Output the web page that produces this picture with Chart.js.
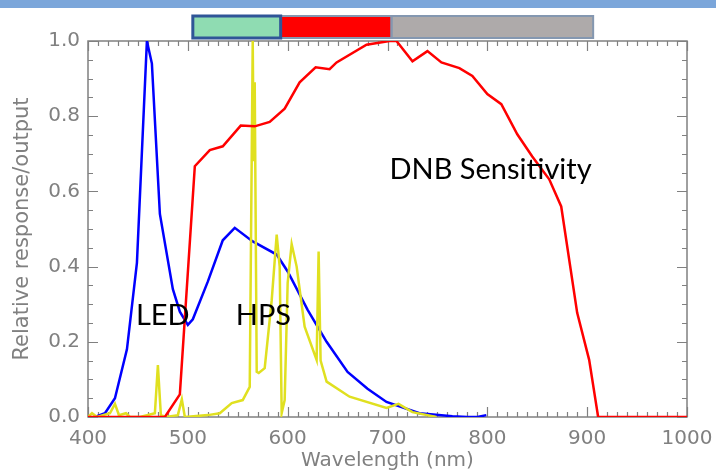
<!DOCTYPE html>
<html>
<head>
<meta charset="utf-8">
<script src="https://cdn.jsdelivr.net/npm/chart.js@4.4.0/dist/chart.umd.min.js"></script>
<style>
  body { margin: 0; background: #fff; }
  #wrap { position: relative; width: 716px; height: 471px; }
  #banner { position: absolute; left: 0; top: 0; width: 716px; height: 8px; background: #7ba6da; }
</style>
</head>
<body>
<div id="wrap">
  <canvas id="chartCanvas" width="716" height="471"></canvas>
  <div id="banner"></div>
</div>
<script>
// LED spectrum (blue)
const ledWl  = [407, 417, 427, 439, 449, 459, 464, 472, 485, 492, 500, 505, 520, 535, 547, 565, 589, 600, 620, 639, 660, 680, 699, 732, 765, 780, 790, 799];
const ledVal = [0, 0.01, 0.05, 0.18, 0.41, 1.0, 0.94, 0.54, 0.34, 0.28, 0.245, 0.26, 0.36, 0.47, 0.503, 0.467, 0.432, 0.387, 0.285, 0.2, 0.12, 0.075, 0.04, 0.01, 0.002, 0, 0, 0.005];

// DNB sensitivity (red)
const dnbWl  = [400, 477, 492, 507, 522, 535, 553, 567, 582, 597, 612, 628, 642, 649, 679, 702, 709, 725, 740, 754, 772, 785, 800, 814, 830, 845, 862, 874, 890, 902, 911, 920, 1000];
const dnbVal = [0, 0, 0.06, 0.667, 0.71, 0.72, 0.775, 0.773, 0.785, 0.82, 0.89, 0.93, 0.925, 0.943, 0.99, 1.0, 1.0, 0.946, 0.973, 0.943, 0.928, 0.907, 0.859, 0.832, 0.752, 0.693, 0.632, 0.56, 0.277, 0.152, 0, 0, 0];

// HPS spectrum (yellow)
const hpsWl  = [400, 404, 409, 415, 422, 427, 431, 438, 442, 452, 467, 470, 473, 478, 490, 494, 497, 520, 532, 544, 555, 562, 565, 566, 567, 569, 571, 577, 584, 589, 592, 594, 597, 600, 604, 609, 617, 629, 631, 633, 639, 662, 699, 711, 725, 749];
const hpsVal = [0, 0.01, 0, 0.005, 0.01, 0.035, 0.005, 0.01, 0, 0, 0.01, 0.138, 0.005, 0, 0.005, 0.047, 0, 0.005, 0.01, 0.037, 0.045, 0.08, 1.0, 0.68, 0.89, 0.12, 0.117, 0.13, 0.31, 0.485, 0.4, 0.01, 0.045, 0.357, 0.46, 0.4, 0.24, 0.152, 0.44, 0.15, 0.094, 0.054, 0.024, 0.035, 0.013, 0];

// spectral bands shown above the plot (nm)
const bandStart = [505, 593, 704];
const bandEnd   = [593, 704, 906];
const bandFill  = ['#8fdcb2', '#ff0000', '#aeaaaa'];
const bandLine  = ['#2f5597', '#8497b0', '#8497b0'];

// text labels on the plot
const noteText = ['LED', 'HPS', 'DNB Sensitivity'];
const noteWl   = [448, 548, 702];
const noteVal  = [0.245, 0.245, 0.632];

const toPts = (xs, ys) => xs.map((x, i) => ({ x: x, y: ys[i] }));
const axisGrey = '#808080';
const tickFont = { family: 'DejaVu Sans', size: 20 };

// Rahmen mit Ticks nach innen, auf allen vier Seiten
const framePlugin = {
  id: 'frame',
  beforeDatasetsDraw(chart) {
    const { ctx, chartArea: a, scales: { x, y } } = chart;
    ctx.save();
    ctx.strokeStyle = axisGrey;
    ctx.lineWidth = 1.5;
    ctx.strokeRect(a.left, a.top, a.right - a.left, a.bottom - a.top);
    ctx.lineWidth = 1.2;
    ctx.beginPath();
    for (let w = 400; w <= 1000; w += 10) {
      const px = Math.round(x.getPixelForValue(w)) + 0.5;
      const len = w % 100 === 0 ? 10 : 5;
      ctx.moveTo(px, a.bottom); ctx.lineTo(px, a.bottom - len);
      ctx.moveTo(px, a.top); ctx.lineTo(px, a.top + len);
    }
    for (let i = 0; i <= 20; i++) {
      const py = Math.round(y.getPixelForValue(i * 0.05)) + 0.5;
      const len = i % 4 === 0 ? 10 : 5;
      ctx.moveTo(a.left, py); ctx.lineTo(a.left + len, py);
      ctx.moveTo(a.right, py); ctx.lineTo(a.right - len, py);
    }
    ctx.stroke();
    ctx.restore();
  },
  afterDraw(chart) {
    const { ctx, scales: { x, y } } = chart;
    ctx.save();
    // Bänder oben
    for (let i = 0; i < bandStart.length; i++) {
      const x0 = x.getPixelForValue(bandStart[i]);
      const x1 = x.getPixelForValue(bandEnd[i]);
      ctx.fillStyle = bandFill[i];
      ctx.fillRect(x0, 16, x1 - x0, 22);
    }
    for (let i = bandStart.length - 1; i >= 0; i--) {
      const x0 = x.getPixelForValue(bandStart[i]);
      const x1 = x.getPixelForValue(bandEnd[i]);
      ctx.strokeStyle = bandLine[i];
      ctx.lineWidth = i === 0 ? 3 : 2;
      ctx.strokeRect(x0, 16, x1 - x0, 22);
    }
    // Beschriftungen
    ctx.fillStyle = '#000';
    ctx.font = '29px Lato';
    ctx.textAlign = 'left';
    ctx.textBaseline = 'alphabetic';
    noteText.forEach((t, i) => {
      ctx.fillText(t, x.getPixelForValue(noteWl[i]), y.getPixelForValue(noteVal[i]));
    });
    ctx.restore();
  }
};

new Chart(document.getElementById('chartCanvas').getContext('2d'), {
  type: 'line',
  data: {
    datasets: [
      { label: 'DNB', data: toPts(dnbWl, dnbVal), borderColor: '#ff0000', borderWidth: 2.5 },
      { label: 'HPS', data: toPts(hpsWl, hpsVal), borderColor: '#e0e020', borderWidth: 2.5 },
      { label: 'LED', data: toPts(ledWl, ledVal), borderColor: '#0000ff', borderWidth: 2.5 }
    ]
  },
  options: {
    responsive: false,
    animation: false,
    elements: { point: { radius: 0 }, line: { tension: 0 } },
    layout: { padding: { top: 41, right: 29, left: 0, bottom: 0 } },
    plugins: { legend: { display: false }, tooltip: { enabled: false } },
    scales: {
      x: {
        type: 'linear', min: 400, max: 1000,
        border: { display: false },
        grid: { display: false, drawTicks: false },
        ticks: { stepSize: 100, color: axisGrey, font: tickFont, padding: 10, maxRotation: 0, callback: v => String(v) },
        title: { display: true, text: 'Wavelength (nm)', color: axisGrey, font: { family: 'DejaVu Sans', size: 20, lineHeight: 1 }, padding: { top: 0, bottom: 0 } },
        afterFit: s => { s.height = 54; s.paddingRight = 0; s.paddingLeft = 0; }
      },
      y: {
        min: 0, max: 1.0,
        border: { display: false },
        grid: { display: false, drawTicks: false },
        ticks: { stepSize: 0.2, color: axisGrey, font: tickFont, padding: 8, callback: v => v.toFixed(1) },
        title: { display: true, text: 'Relative response/output', color: axisGrey, font: { family: 'DejaVu Sans', size: 21, lineHeight: 1 }, padding: { top: 12, bottom: 0 } },
        afterFit: s => { s.width = 88; }
      }
    }
  },
  plugins: [framePlugin]
});
</script>
</body>
</html>
